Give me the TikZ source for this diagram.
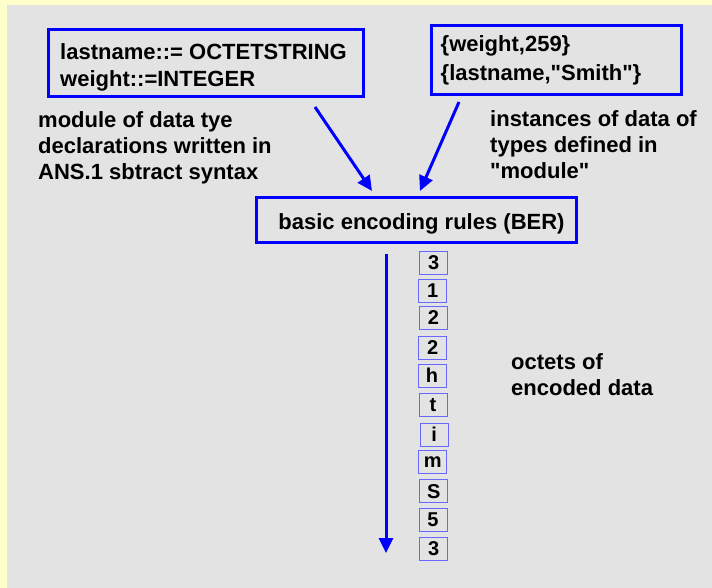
\documentclass[tikz,border=0pt]{standalone}
\usepackage{fontspec}
\setmainfont{Liberation Sans}[Ligatures=TeXOff]
\usetikzlibrary{arrows.meta}
\definecolor{pagebg}{HTML}{FFFFCC}
\definecolor{panel}{HTML}{E3E3E3}
\definecolor{octetline}{HTML}{6868FF}
\tikzset{
  bigbox/.style={draw=blue, line width=3pt, rectangle, inner sep=0pt},
  boxtext/.style={inner sep=0pt, align=left, anchor=north west,
    font=\bfseries\fontsize{22}{27}\selectfont},
  label/.style={inner sep=0pt, align=left, anchor=north west,
    font=\bfseries\fontsize{22}{26}\selectfont},
  octet/.style={draw=octetline, line width=1pt, rectangle, inner sep=0pt,
    minimum width=28pt, minimum height=23pt,
    font=\bfseries\fontsize{20}{20}\selectfont},
  arr/.style={draw=blue, line width=3pt,
    -{Triangle[width=14pt,length=15pt]}}
}
\begin{document}
\begin{tikzpicture}[x=1pt,y=-1pt]
\useasboundingbox (0,0) rectangle (712,588);
\fill[pagebg] (0,0) rectangle (712,588);
\fill[panel] (7,5) rectangle (712,588);

% input boxes and their contents
\node[bigbox, minimum width=315pt, minimum height=67pt] (decl) at (205.5,63) {};
\node[boxtext] (decltext) at (60,43.5) {lastname::= OCTETSTRING\\weight::=INTEGER};
\node[bigbox, minimum width=250pt, minimum height=69pt] (inst) at (556.7,59.7) {};
\node[boxtext, font=\bfseries\fontsize{22}{29}\selectfont] (insttext) at (440.5,35.5)
  {\{weight,259\}\\\{lastname,"Smith"\}};

% captions
\node[label] (cdecl) at (38,111) {module of data tye\\declarations written in\\ANS.1 sbtract syntax};
\node[label] (cinst) at (490,110) {instances of data of\\types defined in\\"module"};

% encoder
\node[bigbox, minimum width=320pt, minimum height=45pt] (ber) at (416,220) {};
\node[anchor=base, inner sep=0pt, font=\bfseries\fontsize{22}{26}\selectfont]
  (bertext) at (421.5,229.3) {basic encoding rules (BER)};

\coordinate (d1) at (315,107);
\coordinate (d2) at (372,191);
\coordinate (i1) at (459,102);
\coordinate (i2) at (420,191);
\draw[arr] (d1) -- (d2);
\draw[arr] (i1) -- (i2);

% output stream
\coordinate (s1) at (386,254);
\coordinate (s2) at (386,553);
\draw[arr] (s1) -- (s2);

\node[octet] (o1)  at (433.8,262.5) {3};
\node[octet] (o2)  at (432.8,290.5) {1};
\node[octet] (o3)  at (433.5,318.0) {2};
\node[octet] (o4)  at (432.8,347.5) {2};
\node[octet] (o5)  at (432.0,375.5) {h};
\node[octet] (o6)  at (433.0,404.8) {t};
\node[octet] (o7)  at (434.2,434.7) {i};
\node[octet] (o8)  at (432.8,462.0) {m};
\node[octet] (o9)  at (433.8,491.3) {S};
\node[octet] (o10) at (433.0,519.7) {5};
\node[octet] (o11) at (433.8,549.0) {3};

\node[label] (coct) at (511,353) {octets of\\encoded data};
\end{tikzpicture}
\end{document}
